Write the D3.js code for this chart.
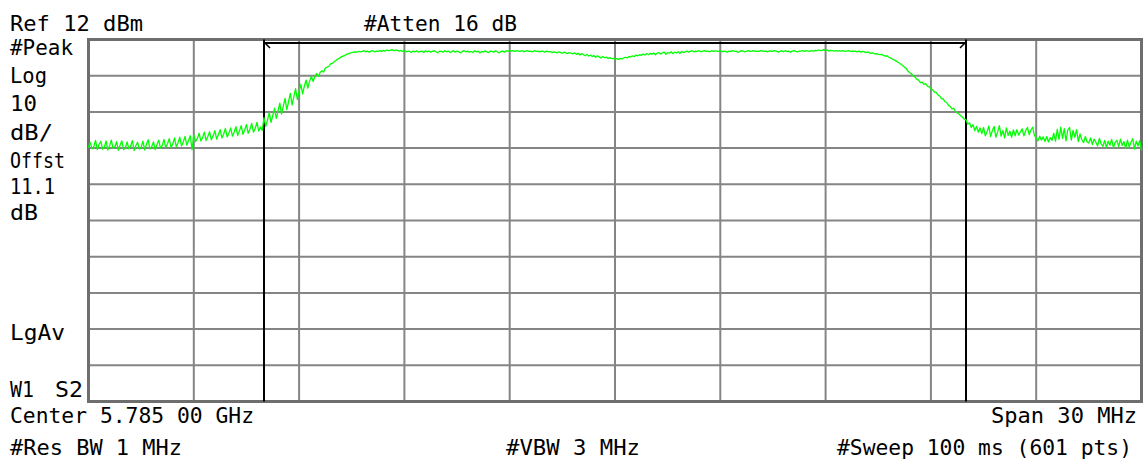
<!DOCTYPE html>
<html>
<head>
<meta charset="utf-8">
<script src="https://cdn.jsdelivr.net/npm/d3@7"></script>
<style>
html,body{margin:0;padding:0;background:#fff;}
svg{display:block;}
text{font-family:"DejaVu Sans Mono","Liberation Mono",monospace;fill:#000;}
</style>
</head>
<body>
<svg id="chart" width="1143" height="461"></svg>
<script>
// ---- data ----
const centerFreqMHz = 5785;
const spanMHz = 30;
const refLevelDbm = 12;
const dbPerDiv = 10;
const xGridMHz = [5770, 5773, 5776, 5779, 5782, 5785, 5788, 5791, 5794, 5797, 5800];
const yGridDbm = [12, 2, -8, -18, -28, -38, -48, -58, -68, -78, -88];
const markerFreqsMHz = [5775, 5795];
const traceDbm = [
-17.9,-16.4,-18.2,-17.6,-15.9,-18.4,-17.0,-16.1,-18.3,-17.8,
-16.0,-18.5,-17.4,-15.8,-18.1,-17.7,-16.2,-18.6,-17.2,-16.0,
-18.4,-17.9,-16.3,-18.2,-17.5,-15.9,-18.7,-17.3,-16.4,-18.3,
-17.8,-16.1,-18.5,-17.0,-15.7,-18.2,-17.6,-16.3,-18.4,-17.1,
-15.8,-18.0,-17.3,-15.6,-17.9,-16.8,-15.4,-17.8,-16.9,-15.2,
-17.6,-16.6,-15.0,-17.4,-16.3,-14.8,-17.2,-15.9,-14.6,-18.4,
-14.3,-16.2,-15.4,-13.9,-16.0,-15.1,-13.6,-15.9,-14.8,-13.5,
-15.7,-14.6,-13.2,-15.5,-14.3,-12.9,-15.2,-14.1,-12.6,-14.9,
-13.9,-12.4,-14.7,-13.6,-12.1,-14.5,-13.3,-11.8,-14.2,-13.0,
-11.5,-13.9,-12.8,-11.2,-13.6,-12.5,-10.9,-13.3,-12.2,-13.1,
-9.6,-12.0,-10.3,-8.2,-10.9,-9.0,-7.0,-9.8,-7.7,-5.6,
-8.6,-6.4,-4.3,-7.4,-5.2,-2.9,-6.1,-3.8,-1.6,-4.6,
-2.3,-0.4,-3.0,-0.9,0.8,-1.4,0.5,1.8,0.4,1.9,
2.6,1.8,2.9,3.4,3.0,4.1,4.4,4.6,5.3,5.4,
5.9,6.2,6.6,6.8,7.2,7.4,7.6,7.9,8.1,8.2,
8.4,8.5,8.6,8.5,8.7,8.6,
8.7,8.9,8.6,8.8,8.5,8.8,8.9,8.6,8.8,8.7,
8.9,8.7,9.0,8.8,9.1,8.9,9.0,9.2,8.9,9.1,
9.0,8.8,9.0,8.7,8.9,8.6,8.8,8.7,8.4,8.8,
8.6,8.9,8.5,8.7,8.8,8.4,8.9,8.6,8.8,8.5,
8.7,8.9,8.6,8.3,8.8,8.7,8.5,8.9,8.6,8.8,
8.4,8.7,8.9,8.5,8.8,8.6,8.3,8.7,8.9,8.6,
8.8,8.5,8.7,8.4,8.9,8.6,8.8,8.3,8.7,8.5,
8.9,8.6,8.4,8.8,8.7,8.5,8.9,8.6,8.3,8.7,
8.8,8.5,8.9,8.7,9.0,8.8,8.9,8.7,8.9,8.8,
8.7,8.9,8.6,8.8,8.9,8.7,8.8,8.6,8.9,8.7,
8.8,8.6,8.8,8.7,8.5,8.8,8.6,8.7,8.4,8.6,
8.5,8.3,8.6,8.4,8.2,8.5,8.3,8.1,8.4,8.2,
8.0,8.3,7.9,8.2,7.7,8.1,7.8,7.5,7.9,7.4,
7.7,7.3,7.6,7.1,7.5,7.2,6.9,7.3,7.0,7.1,
6.8,7.0,6.7,6.8,6.6,6.7,6.5,6.8,6.6,6.9,
7.1,6.9,7.3,7.2,7.5,7.3,7.7,7.5,7.8,7.6,
8.0,7.7,8.1,7.8,8.2,7.9,8.3,7.8,8.2,8.4,
8.0,8.3,8.5,7.9,8.4,8.2,8.6,8.1,8.5,8.3,
8.6,8.2,8.7,8.4,8.6,8.8,8.5,8.7,8.9,8.6,
8.8,8.7,8.9,8.6,8.8,8.9,8.7,8.8,8.6,8.9,
8.7,8.8,8.8,8.7,8.9,8.6,8.8,8.7,8.5,8.8,
8.7,8.9,8.7,8.8,8.4,8.7,8.9,8.8,8.6,8.8,
8.9,8.7,8.8,8.9,8.7,8.8,8.7,8.9,8.8,8.7,
8.8,8.6,8.9,8.7,8.8,8.9,8.8,8.5,8.7,8.9,
8.6,8.9,8.7,8.8,8.5,8.8,8.9,8.7,8.6,8.8,
8.8,8.9,8.7,8.9,8.8,8.7,8.9,8.8,9.0,8.9,
9.1,8.9,9.0,9.2,8.9,9.1,8.8,9.0,8.9,8.8,
8.9,8.8,8.9,8.8,8.9,8.7,8.8,8.9,8.7,8.8,
8.7,8.8,8.6,8.8,8.5,8.7,8.6,8.4,8.6,8.3,
8.2,8.3,8.0,8.1,7.9,7.8,7.9,7.6,7.4,7.5,
7.1,6.9,6.6,6.4,6.1,5.8,5.5,5.1,4.8,4.3,
4.0,3.2,2.8,2.5,1.9,1.6,1.0,0.8,0.1,0.2,
-0.4,-0.2,-0.9,-1.1,-1.6,-1.9,-2.5,-2.6,-3.3,-3.6,
-4.3,-4.4,-5.2,-5.4,-6.2,-6.5,-7.2,-7.0,-7.9,-8.3,
-8.6,-9.1,-9.4,-10.0,
-10.2,-11.4,-11.0,-12.3,-11.5,-13.2,-12.0,-13.6,-12.4,-14.0,
-12.3,-14.6,-13.5,-11.9,-14.8,-13.2,-12.0,-15.0,-13.6,-11.8,
-14.7,-13.1,-15.2,-12.4,-14.5,-13.3,-15.0,-13.0,-14.6,-12.9,
-14.4,-13.5,-12.7,-14.6,-13.2,-12.3,-14.3,-13.0,-12.2,-14.5,
-15.2,-16.0,-14.7,-15.8,-14.9,-16.2,-14.8,-16.3,-15.1,-15.9,
-13.9,-16.1,-12.8,-15.6,-12.2,-15.3,-12.6,-16.0,-13.0,-12.3,
-15.8,-13.1,-15.0,-12.9,-16.2,-14.1,-15.7,-16.5,-14.8,-16.3,
-16.6,-15.2,-17.0,-15.5,-16.4,-17.4,-15.3,-16.8,-17.5,-15.9,
-17.8,-16.1,-17.2,-15.6,-17.9,-16.4,-15.8,-17.6,-15.5,-17.3,
-16.2,-18.1,-15.8,-17.7,-16.4,-15.4,-18.3,-16.1,-17.4,-15.9,
-18.6
];
const topLeftLabel = "Ref 12 dBm";
const topCenterLabel = "#Atten 16 dB";
const sideLabels = ["#Peak", "Log", "10", "dB/", "Offst", "11.1", "dB"];
const lowerSideLabels = ["LgAv", "W1", "S2"];
const bottomLabels = ["Center 5.785 00 GHz", "Span 30 MHz", "#Res BW 1 MHz", "#VBW 3 MHz", "#Sweep 100 ms (601 pts)"];

// ---- layout ----
const svg = d3.select("#chart");
const L = 88.5, R = 1141.5, T = 39.5, B = 401.5;
const nPts = traceDbm.length;
const startMHz = centerFreqMHz - spanMHz / 2;
const freqs = traceDbm.map((d, i) => startMHz + i * spanMHz / (nPts - 1));

const x = d3.scaleLinear().domain([startMHz, startMHz + spanMHz]).range([L, R]);
const y = d3.scaleLinear().domain([refLevelDbm - 10 * dbPerDiv, refLevelDbm]).range([B, T]);

svg.append("rect").attr("width", 1143).attr("height", 461).attr("fill", "#fff");

const grid = svg.append("g");
grid.selectAll("line.v").data(xGridMHz.slice(1, -1)).join("line")
  .attr("x1", d => x(d)).attr("x2", d => x(d))
  .attr("y1", T).attr("y2", B)
  .attr("stroke", "#858585").attr("stroke-width", 2);
grid.selectAll("line.h").data(yGridDbm.slice(1, -1)).join("line")
  .attr("class", "h")
  .attr("x1", L).attr("x2", R)
  .attr("y1", d => y(d)).attr("y2", d => y(d))
  .attr("stroke", "#858585").attr("stroke-width", 2);
svg.append("rect")
  .attr("x", L).attr("y", T).attr("width", R - L).attr("height", B - T)
  .attr("fill", "none").attr("stroke", "#6e6e6e").attr("stroke-width", 3);

// markers
const mk = svg.append("g");
mk.selectAll("line").data(markerFreqsMHz).join("line")
  .attr("x1", d => x(d)).attr("x2", d => x(d))
  .attr("y1", T).attr("y2", B)
  .attr("stroke", "#000").attr("stroke-width", 2);
const ay = T + 3.5;
mk.append("line")
  .attr("x1", x(markerFreqsMHz[0])).attr("x2", x(markerFreqsMHz[1]))
  .attr("y1", ay).attr("y2", ay)
  .attr("stroke", "#000").attr("stroke-width", 2);
mk.append("path")
  .attr("d", `M${x(markerFreqsMHz[0]) + 1},${ay} l5,5 M${x(markerFreqsMHz[1]) - 1},${ay} l-5,5`)
  .attr("stroke", "#000").attr("stroke-width", 1.5).attr("fill", "none");

// trace
const line = d3.line().x((d, i) => x(freqs[i])).y(d => y(d));
svg.append("path").datum(traceDbm)
  .attr("d", line)
  .attr("fill", "none")
  .attr("stroke", "#00ff00")
  .attr("stroke-width", 1.3)
  .attr("stroke-linejoin", "round");

// texts
const fs = 20.5;
function label(t, px, py, len, anchor) {
  const el = svg.append("text").text(t)
    .attr("x", px).attr("y", py)
    .attr("font-size", fs)
    .attr("text-anchor", anchor || "start");
  if (len) el.attr("textLength", len).attr("lengthAdjust", "spacingAndGlyphs");
  return el;
}
label(topLeftLabel, 10, 30.5, 133);
label(topCenterLabel, 364, 30.5, 153);
const sideY = [55, 83, 111, 140, 168, 194, 220];
const sideLen = [63, 37, 27, 43, 55, 45, 28];
sideLabels.forEach((t, i) => label(t, 10, sideY[i], sideLen[i]));
label(lowerSideLabels[0], 10, 340, 55);
label(lowerSideLabels[1], 10, 396.5, 24);
label(lowerSideLabels[2], 55, 396.5, 28);
label(bottomLabels[0], 10, 423, 244);
label(bottomLabels[1], 1137, 423, 146, "end");
label(bottomLabels[2], 10, 455, 172);
label(bottomLabels[3], 506, 455, 134);
label(bottomLabels[4], 1132, 455, 295, "end");
</script>
</body>
</html>
